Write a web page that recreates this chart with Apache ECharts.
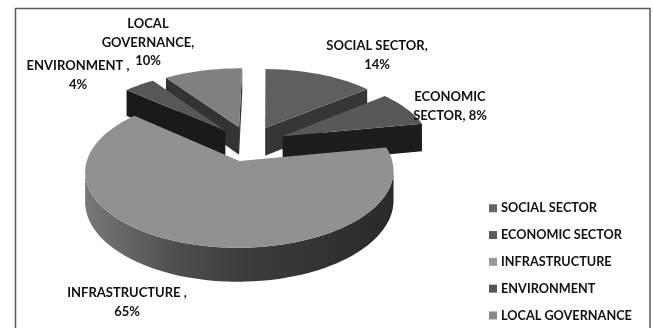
<!DOCTYPE html>
<html>
<head>
<meta charset="utf-8">
<style>html,body{margin:0;padding:0;background:#fff}#chart{width:653px;height:328px}</style>
<script src="https://cdn.jsdelivr.net/npm/echarts@6/dist/echarts.min.js"></script>
</head>
<body>
<div id="chart"></div>
<script>
// Shares of spending by sector, in percent
const categories = ['SOCIAL SECTOR', 'ECONOMIC SECTOR', 'INFRASTRUCTURE', 'ENVIRONMENT', 'LOCAL GOVERNANCE'];
const shares = [14, 8, 65, 4, 10];
const labelHeads = ['SOCIAL SECTOR,', 'ECONOMIC\nSECTOR,', 'INFRASTRUCTURE ,', 'ENVIRONMENT ,', 'LOCAL\nGOVERNANCE,'];
const labelJoins = ['\n', ' ', '\n', '\n', '\n'];

// Styling of each sector
const topColors = ['#5f5f5f', '#585858', '#919191', '#575757', '#808080'];
const wallColors = ['#363636', '#1d1d1d', '#2e2e2e', '#1a1a1a', '#333333'];
const legendColors = ['#666666', '#5c5c5c', '#9a9a9a', '#555555', '#888888'];
const labelAnchors = [[377, 37], [450, 88], [127, 284], [78, 57], [148, 15]];

// Projection of the tilted disc
const CX = 249.5, CY = 143.5, R = 148, TILT = 0.476, PERSPECTIVE = 0.13, EXPLODE = 0.25, DEPTH = 28.5;
const FIRST_SLICE_ANGLE = 0.9 * Math.PI / 180;
const FONT = 'Lato';

const total = shares.reduce((a, b) => a + b, 0);

function project(u, v, drop) {
  const s = 1 / (1 + PERSPECTIVE * v);
  return [CX + R * u * s, CY + (DEPTH * drop - R * TILT * v) * s];
}

function sliceGeometry(index) {
  const before = shares.slice(0, index).reduce((a, b) => a + b, 0);
  const start = FIRST_SLICE_ANGLE + before / total * 2 * Math.PI;
  const end = FIRST_SLICE_ANGLE + (before + shares[index]) / total * 2 * Math.PI;
  const mid = (start + end) / 2;
  const ou = EXPLODE * Math.sin(mid), ov = EXPLODE * Math.cos(mid);
  const steps = Math.max(2, Math.ceil((end - start) / 0.04));
  const arc = [];
  for (let i = 0; i <= steps; i++) {
    const t = start + (end - start) * i / steps;
    arc.push([ou + Math.sin(t), ov + Math.cos(t)]);
  }
  return { apex: [ou, ov], arc };
}

function extrude(a, b) {
  return [project(a[0], a[1], 0), project(b[0], b[1], 0), project(b[0], b[1], 1), project(a[0], a[1], 1)];
}

function renderSlice(index) {
  return function () {
    const g = sliceGeometry(index);
    const children = [];
    const solid = wallColors[index];
    const wallFill = index === 2
      ? new echarts.graphic.LinearGradient(85, 0, 395, 0, [
          { offset: 0, color: '#787878' },
          { offset: 0.3, color: '#4e4e4e' },
          { offset: 0.55, color: '#3a3a3a' },
          { offset: 1, color: '#2a2a2a' }
        ], true)
      : solid;

    // Walls that face the viewer run right to left along the clockwise outline
    const wall = (a, b, fill) => {
      if (project(b[0], b[1], 0)[0] < project(a[0], a[1], 0)[0]) {
        children.push({ type: 'polygon', shape: { points: extrude(a, b) }, style: { fill } });
      }
    };
    wall(g.apex, g.arc[0], solid);
    wall(g.arc[g.arc.length - 1], g.apex, solid);

    // Outer rim, joined into runs so the shading stays continuous
    let run = [];
    const flush = () => {
      if (run.length > 1) {
        const upper = run.map(p => project(p[0], p[1], 0));
        const lower = run.map(p => project(p[0], p[1], 1)).reverse();
        children.push({ type: 'polygon', shape: { points: upper.concat(lower) }, style: { fill: wallFill } });
      }
      run = [];
    };
    for (let i = 0; i < g.arc.length - 1; i++) {
      const a = g.arc[i], b = g.arc[i + 1];
      if (project(b[0], b[1], 0)[0] < project(a[0], a[1], 0)[0]) {
        if (!run.length) run.push(a);
        run.push(b);
      } else {
        flush();
      }
    }
    flush();

    // Top face
    const outline = [g.apex].concat(g.arc).map(p => project(p[0], p[1], 0));
    children.push({ type: 'polygon', shape: { points: outline }, style: { fill: topColors[index] } });

    // Data label
    children.push({
      type: 'text',
      style: {
        x: labelAnchors[index][0], y: labelAnchors[index][1],
        text: labelHeads[index] + labelJoins[index] + shares[index] + '%',
        align: 'center', verticalAlign: 'top',
        font: 'bold 13px ' + FONT, lineHeight: 18.5, fill: '#111111'
      }
    });
    return { type: 'group', children };
  };
}

// Painted from the far side of the disc towards the viewer
const paintOrder = [4, 3, 0, 1, 2];

const option = {
  animation: false,
  backgroundColor: '#ffffff',
  graphic: [{
    type: 'rect', silent: true, z: 0,
    shape: { x: 15.5, y: 8.5, width: 634.5, height: 340 },
    style: { fill: 'none', stroke: '#5a5a5a', lineWidth: 1.5 }
  }],
  legend: {
    orient: 'vertical', left: 484, top: 196, height: 132, padding: [5, 0, 0, 5],
    data: categories, icon: 'rect', itemWidth: 8, itemHeight: 8, itemGap: 12.3,
    textStyle: { fontFamily: FONT, fontWeight: 'bold', fontSize: 12.7, color: '#111111', lineHeight: 14.5, padding: [0, 0, 0, -1] }
  },
  series: paintOrder.map(i => ({
    type: 'custom',
    name: categories[i],
    coordinateSystem: 'none',
    itemStyle: { color: legendColors[i] },
    data: [shares[i]],
    renderItem: renderSlice(i)
  }))
};

echarts.init(document.getElementById('chart')).setOption(option);
</script>
</body>
</html>
